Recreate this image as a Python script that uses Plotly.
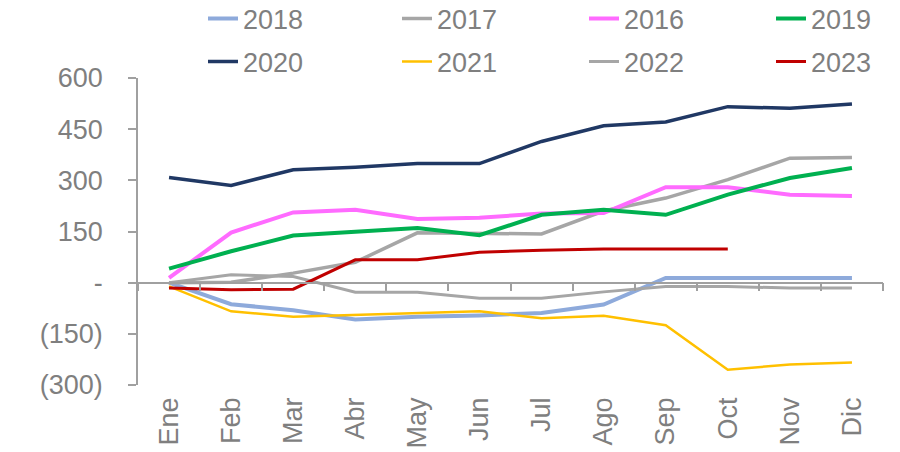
import plotly.graph_objects as go

MONTHS = ["Ene", "Feb", "Mar", "Abr", "May", "Jun",
          "Jul", "Ago", "Sep", "Oct", "Nov", "Dic"]

Y2018 = [0, -63, -81, -108, -100, -96, -89, -64, 14, 14, 14, 14]
Y2017 = [0, 1, 28, 60, 146, 144, 143, 210, 248, 302, 365, 367]
Y2016 = [14, 147, 206, 214, 187, 190, 203, 204, 280, 280, 258, 254]
Y2019 = [41, 92, 138, 148, 160, 139, 199, 214, 199, 258, 307, 336]
Y2020 = [308, 285, 331, 338, 349, 349, 414, 460, 471, 516, 511, 524]
Y2021 = [-11, -84, -100, -94, -89, -84, -104, -97, -125, -255, -240, -234]
Y2022 = [0, 23, 18, -28, -28, -46, -46, -27, -11, -11, -16, -16]
Y2023 = [-16, -21, -19, 67, 67, 89, 95, 99, 99, 99, None, None]

TICK_VALS = [600, 450, 300, 150, 0, -150, -300]
TICK_TEXT = ["600", "450", "300", "150", "-", "(150)", "(300)"]

# name, values, colour, width
SERIES = [
    ("2018", Y2018, "#8eaadb", 4.0),
    ("2017", Y2017, "#a6a6a6", 3.5),
    ("2016", Y2016, "#ff6bff", 4.0),
    ("2019", Y2019, "#00b050", 4.0),
    ("2020", Y2020, "#203864", 3.5),
    ("2021", Y2021, "#ffc000", 2.5),
    ("2022", Y2022, "#a6a6a6", 3.0),
    ("2023", Y2023, "#c00000", 3.0),
]

# the page body has an 8px margin, so the figure is 8px smaller
W, H = 892, 444

# legend grid: 4 columns x 2 rows (figure pixels of each entry)
LEG_COLS = [195, 389, 576, 763]
LEG_ROWS = [11, 54]

FONT = "Liberation Sans, Arial, sans-serif"
TXT = "#7f7f7f"
AXIS = "#a0a0a0"

fig = go.Figure()
legends = {}
for i, (name, vals, color, width) in enumerate(SERIES):
    key = "legend" if i == 0 else f"legend{i + 1}"
    fig.add_trace(go.Scatter(
        x=MONTHS, y=vals, name=name, mode="lines",
        line=dict(color=color, width=width),
        connectgaps=False, legend=key,
    ))
    legends[key] = dict(
        orientation="h", font=dict(family=FONT, size=27, color=TXT),
        xref="container", yref="container",
        x=LEG_COLS[i % 4] / W, y=1 - LEG_ROWS[i // 4] / H,
        xanchor="left", yanchor="middle",
        bgcolor="rgba(0,0,0,0)",
    )

# helper trace so the zero-line category axis gets drawn
fig.add_trace(go.Scatter(
    x=MONTHS, y=[None] * len(MONTHS), xaxis="x2", yaxis="y",
    showlegend=False, hoverinfo="skip",
))

fig.update_layout(
    width=W, height=H,
    margin=dict(l=130, r=17, t=70, b=67, autoexpand=False),
    paper_bgcolor="white", plot_bgcolor="white",
    font=dict(family=FONT, size=27, color=TXT),
    showlegend=True,
    **legends,
    xaxis=dict(
        type="category", categoryarray=MONTHS, range=[-0.5, 11.5],
        showline=False, showgrid=False, zeroline=False, ticks="",
        tickangle=-90, ticklabelstandoff=6,
        tickfont=dict(family=FONT, size=27, color=TXT),
    ),
    xaxis2=dict(
        type="category", categoryarray=MONTHS, range=[-0.5, 11.5],
        overlaying="x", anchor="free", position=1 / 3,
        showline=True, linecolor=AXIS, linewidth=1.5,
        ticks="outside", tickson="boundaries", ticklen=8,
        tickcolor=AXIS, tickwidth=1.5,
        showticklabels=False, showgrid=False, zeroline=False,
    ),
    yaxis=dict(
        range=[-300, 600], tickvals=TICK_VALS, ticktext=TICK_TEXT,
        showline=True, linecolor=AXIS, linewidth=1.5,
        ticks="outside", ticklen=8, tickcolor=AXIS, tickwidth=1.5,
        ticklabelstandoff=20,
        showgrid=False, zeroline=False,
        tickfont=dict(family=FONT, size=27, color=TXT),
    ),
)

fig.write_html("out.html")
